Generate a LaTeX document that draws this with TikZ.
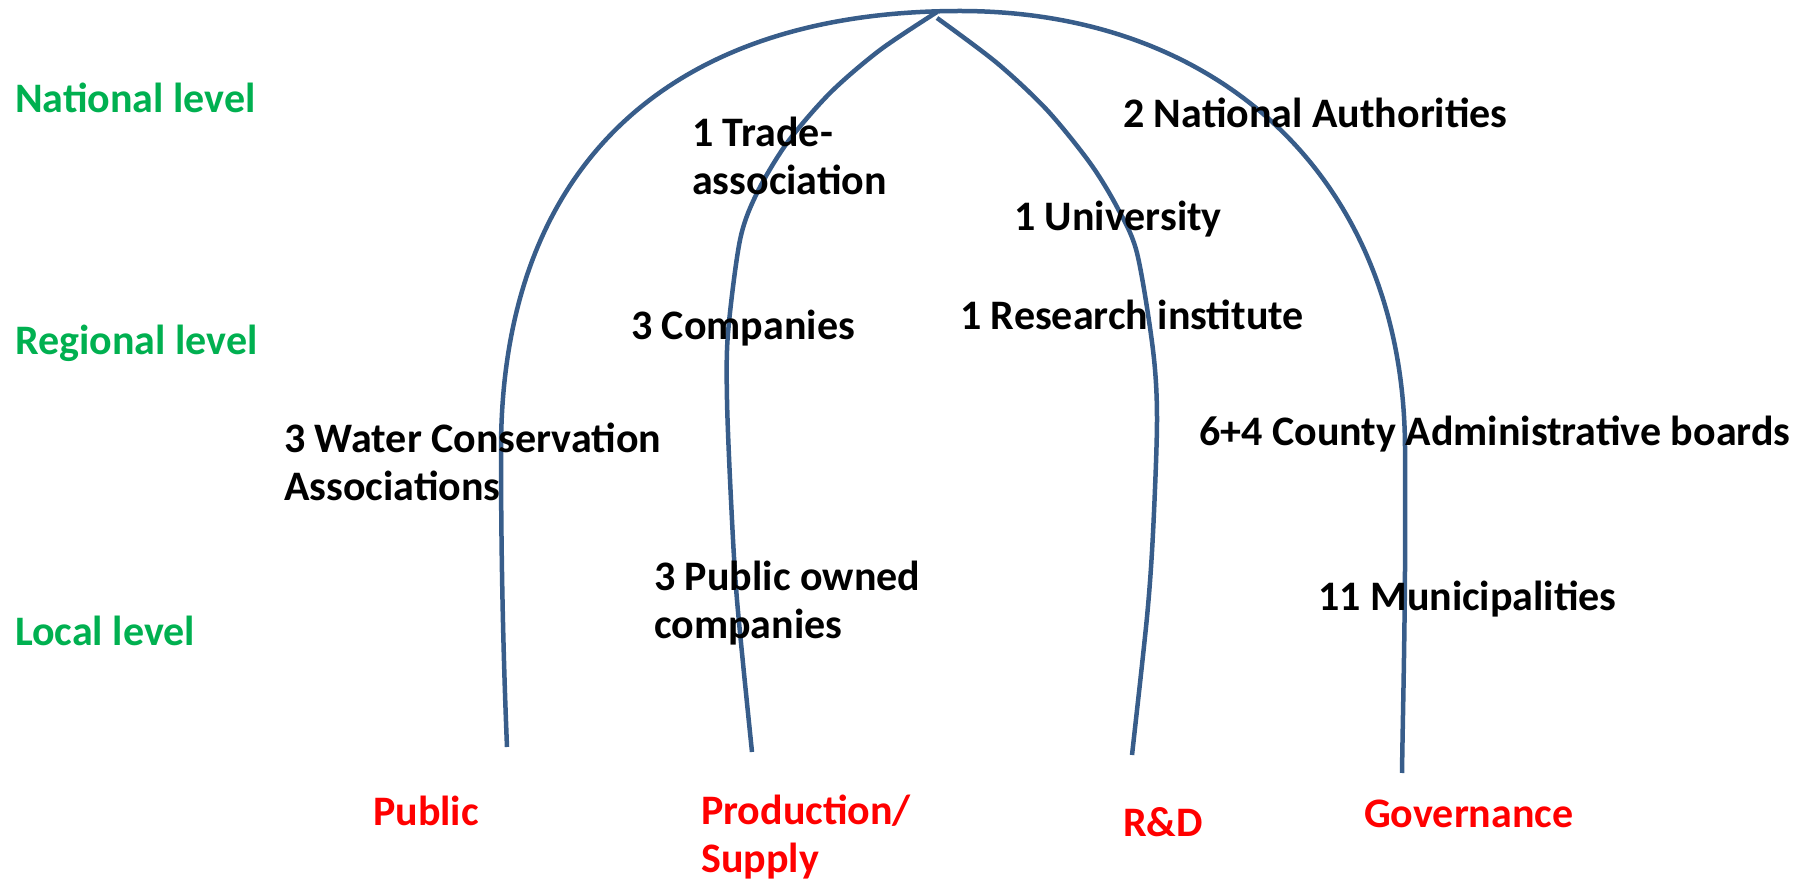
\documentclass[tikz,border=0pt]{standalone}
\usepackage{fontspec}
\setmainfont{Carlito}
\usetikzlibrary{positioning}
\definecolor{archblue}{RGB}{56,93,138}
\definecolor{lvlgreen}{RGB}{0,176,80}
\definecolor{sectred}{RGB}{255,0,0}

\begin{document}
\begin{tikzpicture}[%
			x=1pt, y=-1pt,
			font=\fontsize{42}{48.5}\selectfont\bfseries,
			inner sep=0pt,
			arch/.style={%
				draw=archblue,
				line width=4.5pt
			},
			level/.style={%
				text=lvlgreen,
				anchor=west
			},
			actor/.style={%
				anchor=west,
				align=left
			},
			sector/.style={%
				text=sectred,
				anchor=west,
				align=left
			}
			]
			\useasboundingbox (0,0) rectangle (1816,882);
			% arches
			\draw[arch] (507,747) .. controls (503,650) and (501,550) .. (501,450)
				.. controls (501,169) and (666,11) .. (960,11)
				.. controls (1227,11) and (1405,187) .. (1405,450)
				.. controls (1406,600) and (1403,700) .. (1402,773);
			\draw[arch] plot[smooth, tension=0.5] coordinates {(937,12) (880,50) (830,93) (787,143) (757,193) (740,240) (728,333) (727,400) (731,500) (737,600) (752,752)};
			\draw[arch] plot[smooth, tension=0.5] coordinates {(937,18) (997,63) (1047,110) (1090,163) (1117,207) (1137,253) (1153,350) (1157,420) (1153,533) (1147,617) (1132,755)};
			% levels
			\node[level] (national) at (15,98) {National level};
			\node[level] (regional) at (15,343) {Regional level};
			\node[level] (local) at (15,631) {Local level};
			% actors
			\node[actor] (trade) at (692,156) {1 Trade-\\association};
			\node[actor] (authorities) at (1123,113) {2 National Authorities};
			\node[actor] (university) at (1014,219) {1 University};
			\node[actor] (companies) at (631,328) {3 Companies};
			\node[actor] (institute) at (960,315) {1 Research institute};
			\node[actor] (water) at (284,462) {3 Water Conservation\\Associations};
			\node[actor] (county) at (1199,434) {6+4 County Administrative boards};
			\node[actor] (pubowned) at (654,603) {3 Public owned\\companies};
			\node[actor] (municip) at (1318,599) {11 Municipalities};
			% sectors
			\node[sector] (public) at (373,811) {Public};
			\node[sector] (production) at (701,837) {Production/\\Supply};
			\node[sector] (rnd) at (1123,822) {R\&D};
			\node[sector] (governance) at (1364,814) {Governance};
\end{tikzpicture}
\end{document}
